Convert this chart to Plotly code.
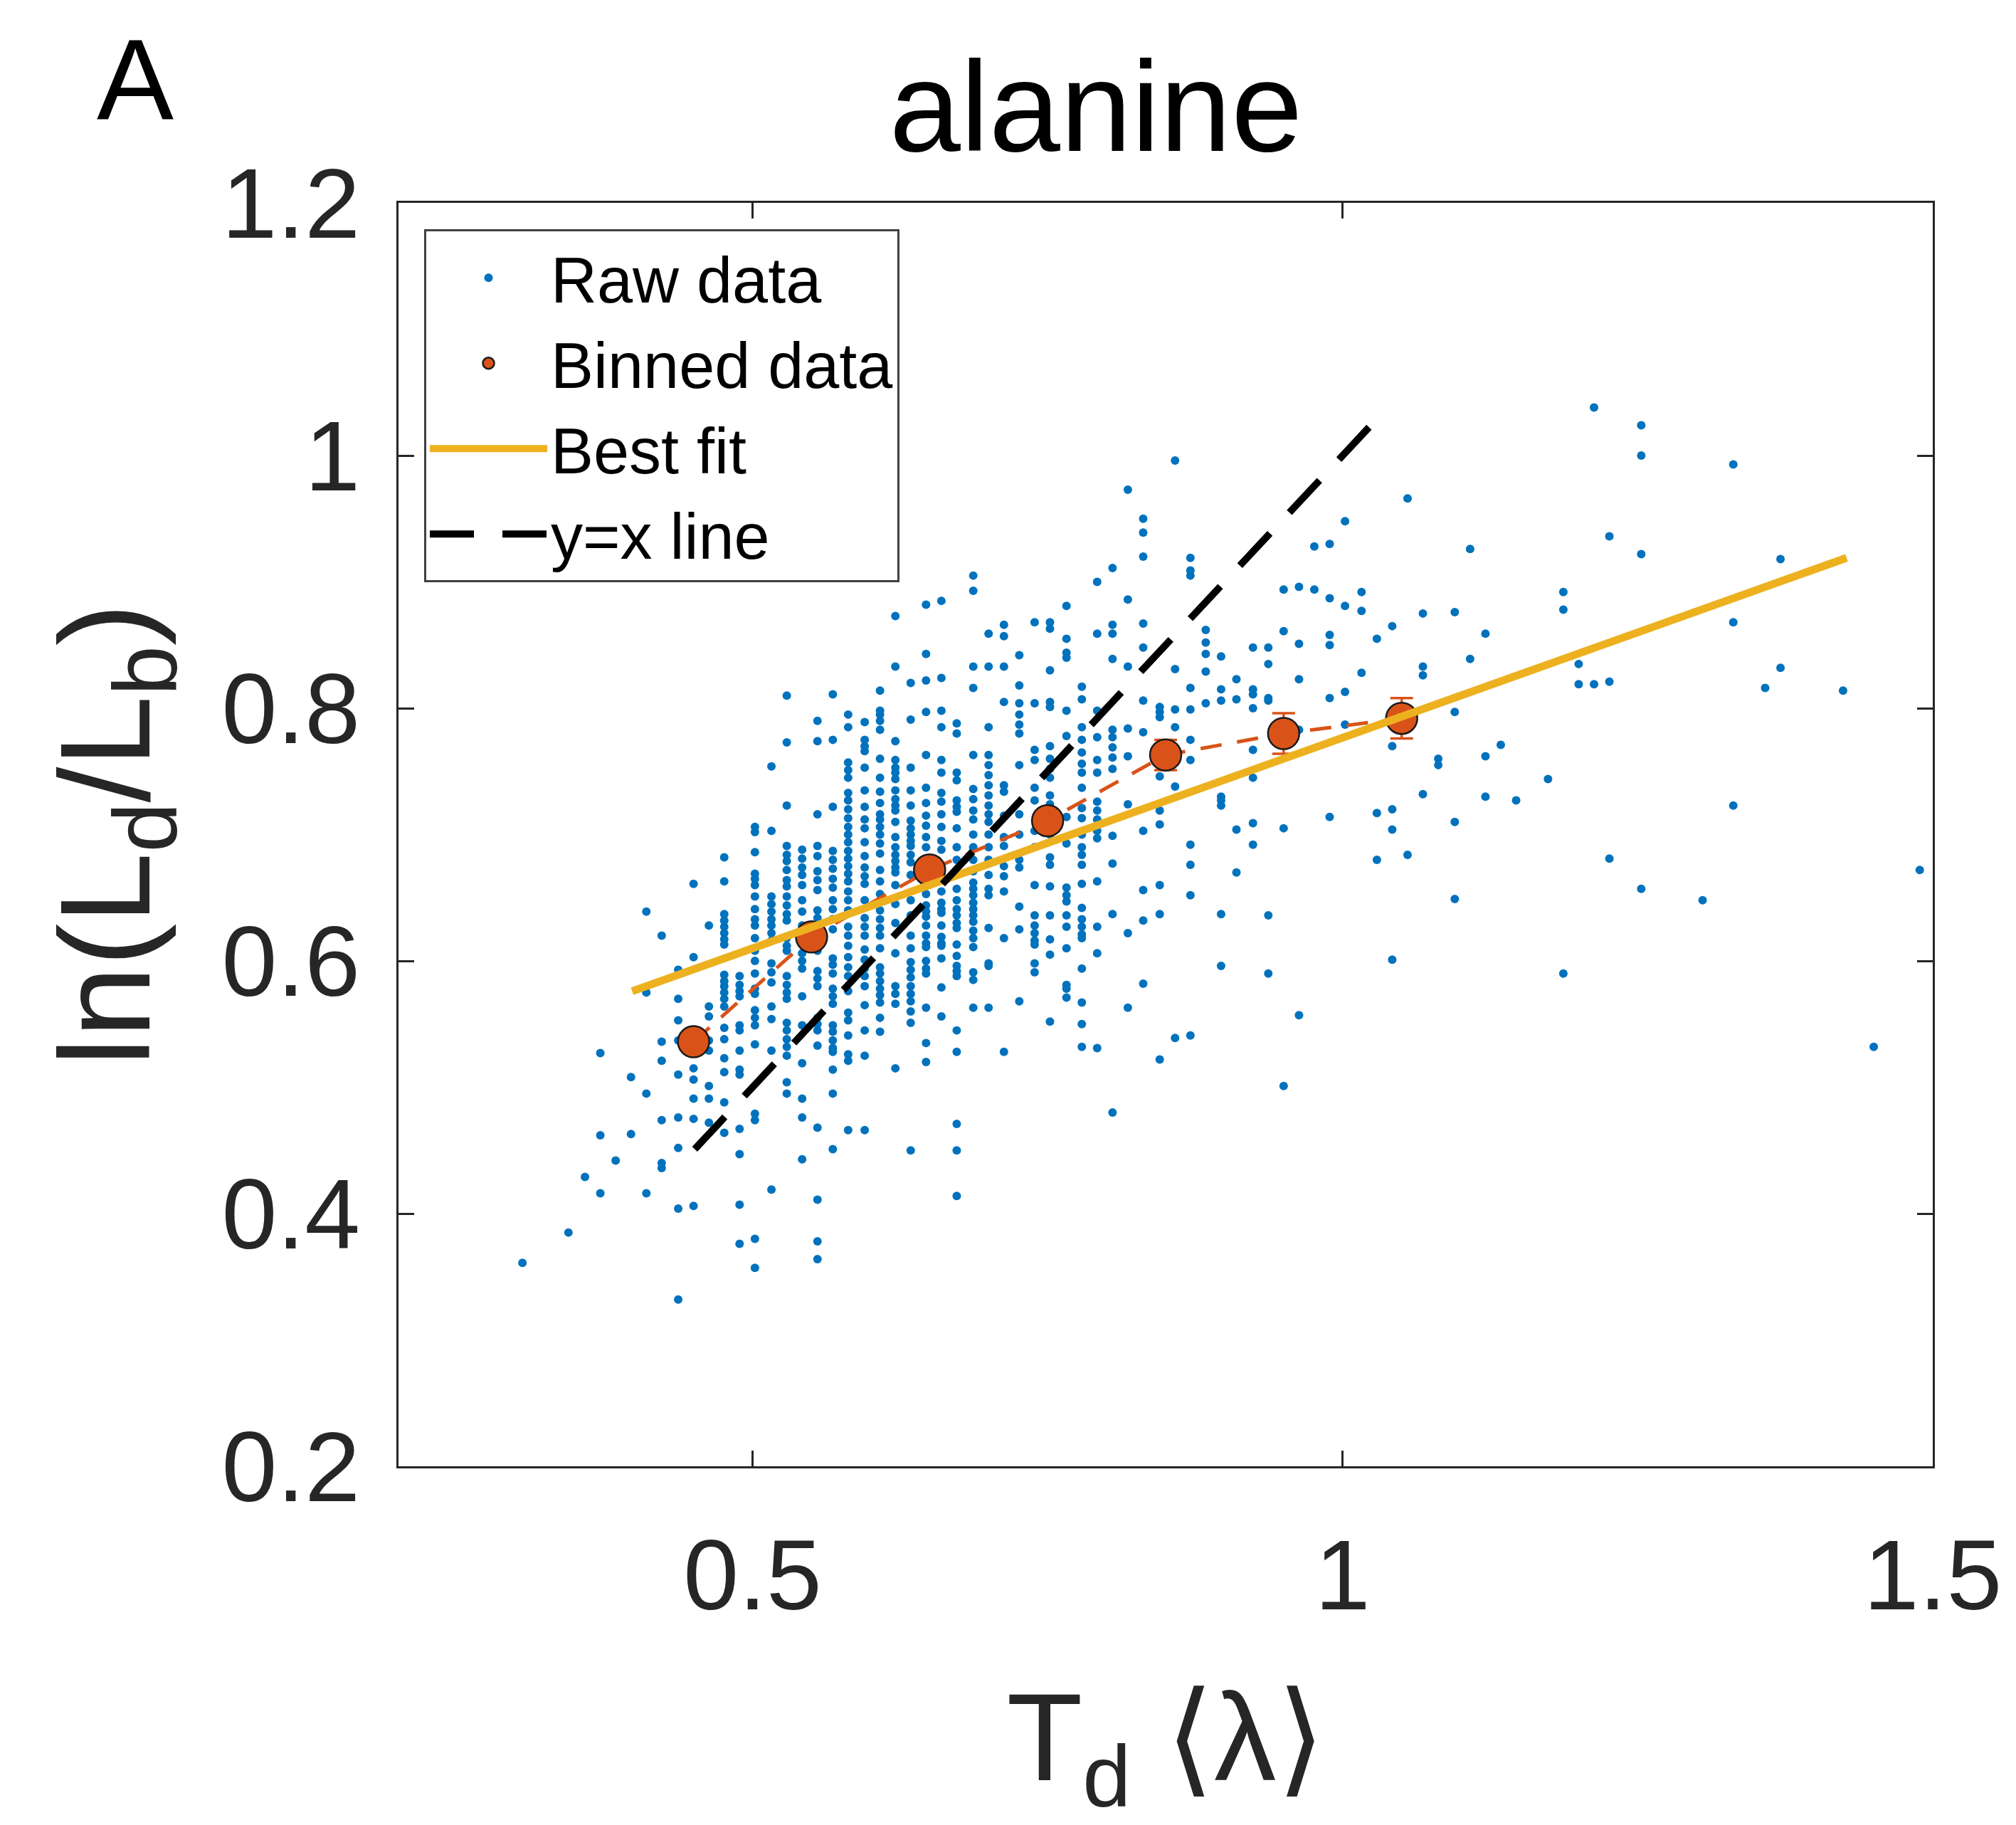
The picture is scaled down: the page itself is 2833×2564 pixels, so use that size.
import plotly.graph_objects as go

FONT = "Liberation Sans, Arial, Helvetica, sans-serif"
AX = "#262626"
BLUE = "#0072BD"
ORANGE = "#D95319"
YELLOW = "#EDB120"

# ---- Raw data: x position of each column and the y values in that column ----
raw_col_x = [0.305, 0.344, 0.358, 0.371, 0.384, 0.397, 0.410, 0.423, 0.437, 0.450,
             0.463, 0.476, 0.489, 0.502, 0.516, 0.529, 0.542, 0.555, 0.568, 0.581,
             0.595, 0.608, 0.621, 0.634, 0.647, 0.660, 0.673, 0.687, 0.700, 0.713,
             0.726, 0.739, 0.752, 0.766, 0.779, 0.792, 0.805, 0.818, 0.831, 0.845,
             0.858, 0.871, 0.884, 0.897, 0.910, 0.924, 0.937, 0.950, 0.963, 0.976,
             0.989, 1.002, 1.016, 1.029, 1.042, 1.055, 1.068, 1.081, 1.095, 1.108,
             1.121, 1.134, 1.147, 1.174, 1.187, 1.200, 1.213, 1.226, 1.253, 1.305,
             1.331, 1.358, 1.371, 1.424, 1.450, 1.489]

raw_col_y = [
    [0.361],
    [0.385],
    [0.429],
    [0.527, 0.462, 0.416],
    [0.442],
    [0.508, 0.463],
    [0.639, 0.575, 0.495, 0.416],
    [0.620, 0.536, 0.521, 0.474, 0.440, 0.436],
    [0.593, 0.570, 0.553, 0.537, 0.510, 0.476, 0.452, 0.404, 0.332],
    [0.661, 0.603, 0.515, 0.506, 0.491, 0.475, 0.406],
    [0.628, 0.564, 0.556, 0.537, 0.529, 0.501, 0.491, 0.472],
    [0.682, 0.663, 0.637, 0.632, 0.627, 0.622, 0.617, 0.613, 0.589, 0.584, 0.580, 0.575,
     0.570, 0.564, 0.547, 0.538, 0.523, 0.512, 0.488, 0.464],
    [0.588, 0.581, 0.576, 0.572, 0.549, 0.545, 0.529, 0.514, 0.510, 0.467, 0.447, 0.407, 0.376],
    [0.706, 0.702, 0.686, 0.669, 0.665, 0.660, 0.651, 0.641, 0.633, 0.628, 0.618, 0.608,
     0.600, 0.590, 0.578, 0.574, 0.561, 0.555, 0.549, 0.534, 0.479, 0.474, 0.380, 0.357],
    [0.754, 0.703, 0.651, 0.645, 0.639, 0.633, 0.628, 0.622, 0.616, 0.598, 0.591, 0.583,
     0.564, 0.554, 0.529, 0.419],
    [0.810, 0.773, 0.723, 0.691, 0.684, 0.679, 0.672, 0.664, 0.659, 0.651, 0.644, 0.637,
     0.632, 0.618, 0.612, 0.608, 0.588, 0.581, 0.575, 0.570, 0.551, 0.545, 0.538, 0.532,
     0.525, 0.504, 0.495],
    [0.688, 0.681, 0.674, 0.668, 0.660, 0.648, 0.639, 0.628, 0.620, 0.614, 0.606, 0.600,
     0.594, 0.572, 0.549, 0.519, 0.491, 0.476, 0.443],
    [0.790, 0.774, 0.716, 0.691, 0.683, 0.671, 0.664, 0.656, 0.640, 0.634, 0.628, 0.608,
     0.592, 0.586, 0.580, 0.555, 0.550, 0.545, 0.533, 0.468, 0.411, 0.378, 0.364],
    [0.811, 0.775, 0.722, 0.687, 0.680, 0.673, 0.665, 0.658, 0.648, 0.641, 0.633, 0.625,
     0.602, 0.597, 0.590, 0.578, 0.572, 0.566, 0.549, 0.544, 0.537, 0.531, 0.528, 0.514,
     0.495, 0.451],
    [0.795, 0.785, 0.757, 0.751, 0.745, 0.733, 0.727, 0.720, 0.713, 0.706, 0.700, 0.694,
     0.687, 0.681, 0.675, 0.669, 0.663, 0.655, 0.648, 0.640, 0.627, 0.620, 0.612, 0.603,
     0.595, 0.588, 0.576, 0.559, 0.553, 0.541, 0.526, 0.521, 0.466],
    [0.789, 0.775, 0.770, 0.766, 0.753, 0.735, 0.722, 0.712, 0.705, 0.694, 0.683, 0.674,
     0.667, 0.661, 0.648, 0.634, 0.627, 0.620, 0.609, 0.601, 0.594, 0.588, 0.580, 0.565,
     0.545, 0.525, 0.466],
    [0.814, 0.798, 0.795, 0.790, 0.783, 0.760, 0.745, 0.734, 0.725, 0.716, 0.712, 0.706,
     0.700, 0.693, 0.685, 0.672, 0.663, 0.653, 0.640, 0.633, 0.626, 0.620, 0.610, 0.595,
     0.590, 0.584, 0.578, 0.573, 0.567, 0.555, 0.544],
    [0.873, 0.833, 0.774, 0.759, 0.753, 0.749, 0.744, 0.735, 0.728, 0.723, 0.719, 0.710,
     0.698, 0.690, 0.684, 0.679, 0.674, 0.670, 0.660, 0.645, 0.630, 0.606, 0.580, 0.574,
     0.566, 0.515],
    [0.820, 0.791, 0.753, 0.735, 0.723, 0.711, 0.705, 0.700, 0.695, 0.691, 0.684, 0.678,
     0.668, 0.648, 0.636, 0.620, 0.610, 0.599, 0.593, 0.587, 0.580, 0.574, 0.568, 0.560,
     0.551, 0.450],
    [0.882, 0.843, 0.822, 0.797, 0.763, 0.737, 0.725, 0.715, 0.707, 0.698, 0.690, 0.680,
     0.670, 0.662, 0.653, 0.644, 0.639, 0.635, 0.628, 0.620, 0.614, 0.611, 0.600, 0.594,
     0.590, 0.563, 0.535, 0.520],
    [0.885, 0.824, 0.798, 0.785, 0.759, 0.749, 0.733, 0.726, 0.716, 0.706, 0.695, 0.688,
     0.675, 0.665, 0.655, 0.646, 0.641, 0.638, 0.628, 0.619, 0.614, 0.612, 0.602, 0.579, 0.556],
    [0.788, 0.780, 0.749, 0.743, 0.727, 0.722, 0.718, 0.705, 0.690, 0.680, 0.670, 0.657,
     0.648, 0.641, 0.636, 0.630, 0.626, 0.613, 0.604, 0.596, 0.592, 0.588, 0.545, 0.528,
     0.471, 0.450, 0.414],
    [0.905, 0.893, 0.833, 0.816, 0.763, 0.736, 0.728, 0.719, 0.712, 0.700, 0.690, 0.680,
     0.671, 0.662, 0.657, 0.652, 0.646, 0.641, 0.636, 0.631, 0.624, 0.618, 0.611, 0.591,
     0.585, 0.563],
    [0.859, 0.833, 0.785, 0.763, 0.755, 0.747, 0.739, 0.731, 0.723, 0.716, 0.710, 0.700,
     0.690, 0.680, 0.668, 0.657, 0.652, 0.626, 0.598, 0.596, 0.563],
    [0.866, 0.857, 0.833, 0.805, 0.739, 0.734, 0.715, 0.698, 0.691, 0.675, 0.667, 0.655,
     0.618, 0.528],
    [0.842, 0.818, 0.804, 0.795, 0.787, 0.780, 0.755, 0.716, 0.700, 0.680, 0.674, 0.643,
     0.625, 0.568],
    [0.868, 0.804, 0.767, 0.759, 0.737, 0.727, 0.703, 0.690, 0.660, 0.636, 0.628, 0.622,
     0.616, 0.613, 0.598, 0.591],
    [0.868, 0.863, 0.830, 0.805, 0.801, 0.770, 0.760, 0.752, 0.745, 0.731, 0.724, 0.700,
     0.682, 0.676, 0.659, 0.636, 0.617, 0.605, 0.552],
    [0.881, 0.855, 0.844, 0.840, 0.798, 0.778, 0.714, 0.693, 0.658, 0.652, 0.647, 0.636,
     0.627, 0.610, 0.581, 0.578, 0.571],
    [0.817, 0.807, 0.785, 0.775, 0.765, 0.756, 0.749, 0.737, 0.721, 0.713, 0.700, 0.690,
     0.684, 0.676, 0.661, 0.642, 0.633, 0.627, 0.621, 0.618, 0.594, 0.567, 0.550, 0.532],
    [0.900, 0.859, 0.798, 0.777, 0.759, 0.749, 0.726, 0.719, 0.712, 0.703, 0.697, 0.663,
     0.627, 0.606, 0.531],
    [0.911, 0.866, 0.859, 0.839, 0.783, 0.777, 0.769, 0.761, 0.752, 0.699, 0.677, 0.637, 0.480],
    [0.973, 0.886, 0.833, 0.784, 0.762, 0.724, 0.622, 0.563],
    [0.950, 0.939, 0.920, 0.867, 0.848, 0.806, 0.781, 0.703, 0.656, 0.632, 0.582],
    [0.801, 0.797, 0.793, 0.746, 0.719, 0.708, 0.660, 0.637, 0.522],
    [0.996, 0.831, 0.799, 0.785, 0.738, 0.539],
    [0.919, 0.909, 0.905, 0.816, 0.799, 0.775, 0.759, 0.692, 0.676, 0.652, 0.541],
    [0.862, 0.852, 0.843, 0.829, 0.804],
    [0.841, 0.815, 0.806, 0.730, 0.727, 0.723, 0.637, 0.596],
    [0.823, 0.807, 0.704, 0.670],
    [0.848, 0.815, 0.811, 0.800, 0.767, 0.745, 0.709, 0.692],
    [0.848, 0.835, 0.808, 0.806, 0.636, 0.590],
    [0.894, 0.861, 0.705, 0.501],
    [0.896, 0.851, 0.823, 0.783, 0.557],
    [0.928, 0.894],
    [0.930, 0.887, 0.858, 0.850, 0.808, 0.714],
    [0.948, 0.881, 0.813, 0.787],
    [0.892, 0.877, 0.828],
    [0.855, 0.717, 0.680],
    [0.865, 0.770, 0.720, 0.704, 0.601],
    [0.966, 0.684],
    [0.875, 0.833, 0.826, 0.732],
    [0.760, 0.755],
    [0.876, 0.797, 0.710, 0.649],
    [0.926, 0.839],
    [0.859, 0.762, 0.730],
    [0.771],
    [0.727],
    [0.744],
    [0.892, 0.878, 0.590],
    [0.835, 0.819],
    [1.038, 0.819],
    [0.936, 0.821, 0.681],
    [1.024, 1.000, 0.922, 0.657],
    [0.648],
    [0.993, 0.868, 0.723],
    [0.816],
    [0.918, 0.832],
    [0.814],
    [0.532],
    [0.672],
]

# ---- Binned data ----
bin_x = [0.45, 0.55, 0.65, 0.75, 0.85, 0.95, 1.05]
bin_y = [0.536, 0.619, 0.672, 0.711, 0.763, 0.780, 0.792]
bin_err = [0.006, 0.005, 0.004, 0.005, 0.012, 0.016, 0.016]

# ---- Best fit line and y = x line ----
fit_x = [0.398, 1.427]
fit_y = [0.576, 0.919]
yx_x = [0.451, 1.038]
yx_y = [0.451, 1.038]

# ---- Axis ticks ----
x_ticks = [0.5, 1.0, 1.5]
x_ticklabels = ["0.5", "1", "1.5"]
y_ticks = [0.2, 0.4, 0.6, 0.8, 1.0, 1.2]
y_ticklabels = ["0.2", "0.4", "0.6", "0.8", "1", "1.2"]

raw_x = []
raw_y = []
for cx, ys in zip(raw_col_x, raw_col_y):
    for yv in ys:
        raw_x.append(cx)
        raw_y.append(yv)

fig = go.Figure()

fig.add_trace(go.Scatter(
    x=raw_x, y=raw_y, mode="markers", name="Raw data",
    marker=dict(color=BLUE, size=12, line=dict(width=0)),
))

fig.add_trace(go.Scatter(
    x=bin_x, y=bin_y, mode="lines", showlegend=False,
    line=dict(color=ORANGE, width=5, dash="30px,22px"),
))

fig.add_trace(go.Scatter(
    x=bin_x, y=bin_y, mode="markers", name="Binned data",
    marker=dict(color=ORANGE, size=44, line=dict(color="#1a1a1a", width=2.5)),
    error_y=dict(type="data", array=bin_err, color=ORANGE, thickness=3.5, width=16),
))

fig.add_trace(go.Scatter(
    x=fit_x, y=fit_y, mode="lines", name="Best fit",
    line=dict(color=YELLOW, width=11),
))

fig.add_trace(go.Scatter(
    x=yx_x, y=yx_y, mode="lines", name="y=x line",
    line=dict(color="black", width=10, dash="62px,40px"),
))

axis_common = dict(
    showgrid=False, zeroline=False, showline=True, linecolor=AX, linewidth=3,
    mirror="ticks", ticks="inside", ticklen=22, tickwidth=3, tickcolor=AX,
    tickfont=dict(family=FONT, size=140, color=AX), automargin=False,
)

fig.update_layout(
    width=2833, height=2564, autosize=False,
    margin=dict(l=560, r=117, t=285, b=504, pad=0),
    paper_bgcolor="white", plot_bgcolor="white",
    font=dict(family=FONT, color=AX),
    title=dict(text="alanine", x=0.5436, xref="container", xanchor="center",
               y=0.9420, yref="container", yanchor="middle",
               font=dict(family=FONT, size=180, color="black")),
    xaxis=dict(range=[0.2, 1.5], tickvals=x_ticks, ticktext=x_ticklabels,
               ticklabelstandoff=30,
               title=dict(text="T<sub>d</sub> \u27e8\u03bb\u27e9", standoff=112,
                          font=dict(family=FONT, size=175, color=AX)),
               **axis_common),
    yaxis=dict(range=[0.2, 1.2], tickvals=y_ticks, ticktext=y_ticklabels,
               ticklabelstandoff=23,
               title=dict(text="ln(L<sub>d</sub>/L<sub>b</sub>)", standoff=40,
                          font=dict(family=FONT, size=180, color=AX)),
               **axis_common),
    legend=dict(x=0.0167, y=0.979, xanchor="left", yanchor="top",
                bgcolor="white", bordercolor="#404040", borderwidth=3,
                font=dict(family=FONT, size=90, color="black"),
                itemwidth=165, tracegroupgap=0, traceorder="normal"),
    annotations=[dict(text="A", x=-0.1716, y=1.0975, xref="paper", yref="paper",
                      xanchor="center", yanchor="middle", showarrow=False,
                      font=dict(family=FONT, size=162, color="black"))],
)

fig.write_html("out.html")
